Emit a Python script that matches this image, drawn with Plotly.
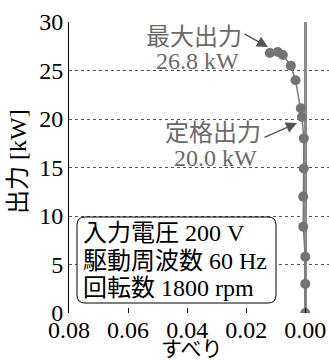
import plotly.graph_objects as go

# ---- data ----
slip = [0.0120, 0.0093, 0.0076, 0.0049, 0.0033, 0.0015, 0.0011, 0.0005, 0.0005, 0.0007, 0.0007, 0.0000, 0.0000, 0.0000]
power = [26.8, 26.9, 26.6, 25.5, 24.0, 21.1, 20.2, 18.0, 14.9, 12.0, 8.9, 5.8, 3.0, 0.0]
x_ticks = [0.08, 0.06, 0.04, 0.02, 0.00]
x_ticklabels = ["0.08", "0.06", "0.04", "0.02", "0.00"]
y_ticks = [0, 5, 10, 15, 20, 25, 30]
max_label = ["最大出力", "26.8 kW"]
rated_label = ["定格出力", "20.0 kW"]
cond_lines = ["入力電圧 200 V", "駆動周波数 60 Hz", "回転数 1800 rpm"]
x_title = "すべり"
y_title = "出力 [kW]"

W, H = 329, 360
L, R, T, B = 69, 0, 22, 47
XR = [0.08, -0.00803]
YR = [0, 30]
pw, ph = W - L - R, H - T - B

def X(px):
    return XR[0] + (px - L) / pw * (XR[1] - XR[0])

def Y(py):
    return YR[0] + (H - B - py) / ph * (YR[1] - YR[0])

def PX(px):
    return (px - L) / pw

def PY(py):
    return (H - B - py) / ph

FONT = "Liberation Serif, Times New Roman, Noto Sans CJK JP, serif"
GREY = "#6a6a6a"

fig = go.Figure()
fig.add_trace(go.Scatter(
    x=slip, y=power, mode="lines+markers",
    line=dict(color="#7a7a7a", width=1.5),
    marker=dict(color="#747474", size=10),
    showlegend=False, hoverinfo="skip",
))

# rounded box
x0, x1, y0, y1, r = 77, 276, 217, 303, 8
path = (f"M {X(x0+r)},{Y(y0)} L {X(x1-r)},{Y(y0)} Q {X(x1)},{Y(y0)} {X(x1)},{Y(y0+r)} "
        f"L {X(x1)},{Y(y1-r)} Q {X(x1)},{Y(y1)} {X(x1-r)},{Y(y1)} "
        f"L {X(x0+r)},{Y(y1)} Q {X(x0)},{Y(y1)} {X(x0)},{Y(y1-r)} "
        f"L {X(x0)},{Y(y0+r)} Q {X(x0)},{Y(y0)} {X(x0+r)},{Y(y0)} Z")
fig.add_shape(type="path", path=path, xref="x", yref="y",
              line=dict(color="black", width=1), fillcolor="white", layer="above")

ann = []
for i, (txt, py) in enumerate(zip(cond_lines, [233, 261, 288])):
    ann.append(dict(x=PX(81), y=PY(py), xref="paper", yref="paper", text=txt,
                    showarrow=False, xanchor="left", yanchor="middle",
                    font=dict(family=FONT, size=24, color="black")))

# labels
def lab(txt, px, py, color=GREY, size=24, **kw):
    return dict(x=PX(px), y=PY(py), xref="paper", yref="paper", text=txt,
                showarrow=False, xanchor="center", yanchor="middle",
                font=dict(family=FONT, size=size, color=color), **kw)

ann.append(lab(max_label[0], 194, 37))
ann.append(lab(max_label[1], 197, 61))
ann.append(lab(rated_label[0], 213, 133))
ann.append(lab(rated_label[1], 215, 158))
# arrows
ann.append(dict(x=X(268), y=Y(47), ax=X(243), ay=Y(33), xref="x", yref="y",
                axref="x", ayref="y", text="", showarrow=True, arrowhead=2,
                arrowsize=1.7, arrowwidth=1.3, arrowcolor="#555555"))
ann.append(dict(x=X(297), y=Y(123), ax=X(263), ay=Y(138), xref="x", yref="y",
                axref="x", ayref="y", text="", showarrow=True, arrowhead=2,
                arrowsize=1.7, arrowwidth=1.3, arrowcolor="#555555"))
# axis titles
ann.append(lab(x_title, 192, 349, color="black", size=21))
ann.append(lab(y_title, 18, 162, color="black", size=24, textangle=-90))

fig.update_layout(
    width=W, height=H,
    margin=dict(l=L, r=R, t=T, b=B, pad=0),
    paper_bgcolor="white", plot_bgcolor="white",
    font=dict(family=FONT, size=24, color="black"),
    annotations=ann,
    xaxis=dict(range=XR, tickvals=x_ticks, ticktext=x_ticklabels,
               ticks="inside", ticklen=5, tickcolor="black",
               showgrid=False, showline=False,
               zeroline=True, zerolinecolor="#8a8a8a", zerolinewidth=2.5,
               tickfont=dict(family=FONT, size=24, color="black")),
    xaxis2=dict(range=XR, overlaying="x", side="top", anchor="y",
                tickvals=x_ticks, ticks="inside", ticklen=5, tickcolor="black",
                showticklabels=False, showgrid=False, zeroline=False,
                showline=True, linecolor="black", linewidth=1),
    yaxis=dict(range=YR, tickvals=y_ticks, ticks="", showline=True,
               linecolor="black", linewidth=1,
               showgrid=True, gridcolor="#555555", griddash="dot", gridwidth=1,
               zeroline=False,
               tickfont=dict(family=FONT, size=24, color="black")),
)

fig.write_html("out.html", config={"displayModeBar": False},
               post_script="document.body.style.margin='0';document.body.style.overflow='hidden';")
